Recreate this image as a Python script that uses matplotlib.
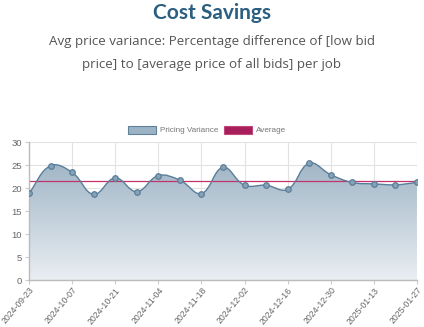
import numpy as np
import pandas as pd
import matplotlib
matplotlib.use("Agg")
import matplotlib.pyplot as plt
import matplotlib.dates as mdates
from matplotlib.path import Path
from matplotlib.patches import PathPatch, Rectangle

# Weekly values
weeks = pd.date_range("2024-09-23", "2025-01-27", freq="7D")
variance = [18.85, 24.85, 23.4, 18.6, 22.2, 19.2, 22.7, 21.7, 18.8, 24.5,
            20.6, 20.6, 19.7, 25.4, 22.9, 21.2, 20.9, 20.7, 21.2]
average = float(np.mean(variance))
tick_dates = pd.date_range("2024-09-23", "2025-01-27", freq="14D")
tick_labels = [d.strftime("%Y-%m-%d") for d in tick_dates]

title = "Cost Savings"
subtitle = "Avg price variance: Percentage difference of [low bid\nprice] to [average price of all bids] per job"

LINE = "#5a7e99"
MARKER_FACE = "#86a2b8"
AVG = "#c0336b"
GRID = "#e2e2e2"
TICK = "#666666"
SMALL = "Liberation Sans"

fig = plt.figure(figsize=(4.24, 3.27), dpi=100)
fig.text(0.5, 0.96, title, ha="center", va="center", fontsize=15,
         fontweight="bold", color="#2b5e80", family="Lato")
fig.text(0.5, 0.838, subtitle, ha="center", va="center", fontsize=9.6,
         color="#555555", family="Open Sans", linespacing=1.95)

ax = fig.add_axes([0.0684, 0.1437, 0.915, 0.422])
x = mdates.date2num(weeks)
y = np.array(variance)
xmin, xmax = x[0], x[-1]
ax.set_xlim(xmin, xmax)
ax.set_ylim(0, 30)

# Cubic bezier through the points (tension 0.4 spline, in screen-like units)
tension = 0.4
yscale = 4.6 / 2.95
verts = [(x[0], y[0])]
codes = [Path.MOVETO]
n = len(x)
cps = []
for i in range(n):
    p = (x[max(i - 1, 0)], y[max(i - 1, 0)])
    c = (x[i], y[i])
    nx = (x[min(i + 1, n - 1)], y[min(i + 1, n - 1)])
    d01 = np.hypot(c[0] - p[0], (c[1] - p[1]) * yscale)
    d12 = np.hypot(nx[0] - c[0], (nx[1] - c[1]) * yscale)
    tot = d01 + d12
    fa = tension * (d01 / tot if tot else 0)
    fb = tension * (d12 / tot if tot else 0)
    prev_cp = (c[0] - fa * (nx[0] - p[0]), c[1] - fa * (nx[1] - p[1]))
    next_cp = (c[0] + fb * (nx[0] - p[0]), c[1] + fb * (nx[1] - p[1]))
    cps.append((prev_cp, next_cp))
for i in range(1, n):
    verts += [cps[i - 1][1], cps[i][0], (x[i], y[i])]
    codes += [Path.CURVE4] * 3
line_path = Path(verts, codes)

fill_verts = verts + [(x[-1], 0), (x[0], 0), (x[0], y[0])]
fill_codes = codes + [Path.LINETO, Path.LINETO, Path.CLOSEPOLY]
fill_path = Path(fill_verts, fill_codes)

# Vertical gradient under the curve
grad = np.linspace(0, 1, 256).reshape(-1, 1)
top = np.array([0xa0, 0xb5, 0xc6]) / 255
bot = np.array([0xe9, 0xee, 0xf2]) / 255
img = top * (1 - grad[..., None]) + bot * grad[..., None]
img = img.reshape(256, 1, 3)
im = ax.imshow(img, extent=[xmin, xmax, 0, 26], aspect="auto", zorder=1,
               origin="upper")
clip = PathPatch(fill_path, transform=ax.transData, facecolor="none", edgecolor="none")
ax.add_patch(clip)
im.set_clip_path(clip)

ax.add_patch(PathPatch(line_path, facecolor="none", edgecolor=LINE, lw=1.0, zorder=3))
ax.plot(x, y, "o", ms=4, mfc=MARKER_FACE, mec=LINE, mew=0.9, zorder=4)
ax.axhline(average, color=AVG, lw=0.9, zorder=2.5)

ax.set_xticks(mdates.date2num(tick_dates))
ax.set_xticklabels(tick_labels, rotation=50, ha="right", va="top",
                   rotation_mode="anchor", fontsize=6.3, color=TICK, family=SMALL)
ax.set_yticks(range(0, 31, 5))
ax.set_yticklabels([str(v) for v in range(0, 31, 5)], fontsize=6.8, color=TICK, family=SMALL)
ax.tick_params(axis="y", length=3, color="#cccccc", pad=2)
ax.tick_params(axis="x", length=3, color="#cccccc", pad=1)
ax.grid(True, color=GRID, lw=0.8, zorder=0)
ax.set_axisbelow(True)
for s in ["top", "right"]:
    ax.spines[s].set_visible(False)
for s in ["left", "bottom"]:
    ax.spines[s].set_color("#bbbbbb")
    ax.spines[s].set_linewidth(1.0)

# Legend drawn in figure coordinates
W, H = 424, 327
def fx(px):
    return px / W
def fy(py):
    return 1 - py / H
fig.add_artist(Rectangle((fx(128), fy(134)), 28 / W, 8 / H, transform=fig.transFigure,
                         facecolor="#9cb3c5", edgecolor="#5f8199", lw=0.8))
fig.text(fx(160), fy(130), "Pricing Variance", fontsize=5.9, color="#777777", va="center",
         family=SMALL)
fig.add_artist(Rectangle((fx(224), fy(134)), 28 / W, 8 / H, transform=fig.transFigure,
                         facecolor="#a81d5c", edgecolor="#c0497c", lw=0.8))
fig.text(fx(256), fy(130), "Average", fontsize=5.9, color="#777777", va="center", family=SMALL)

fig.savefig("out.png", dpi=100)
